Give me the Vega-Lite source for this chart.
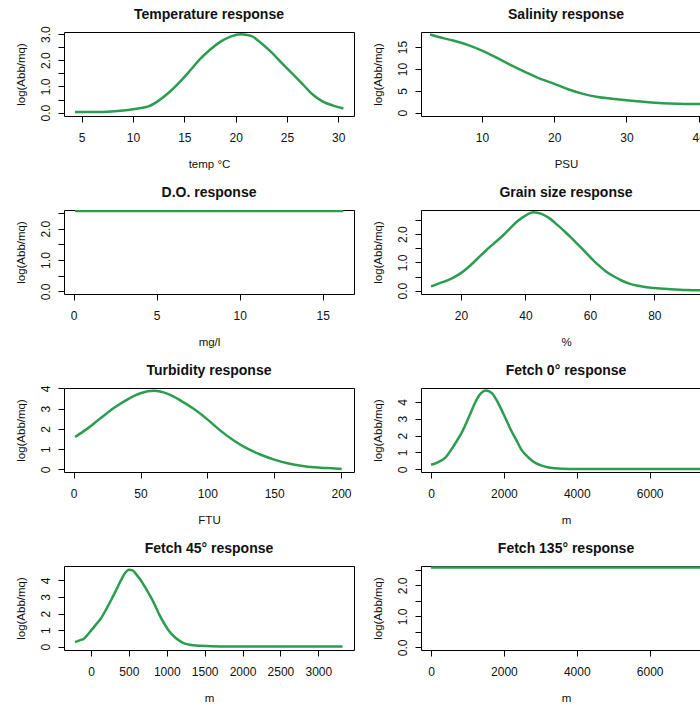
{
 "$schema": "https://vega.github.io/schema/vega-lite/v6.json",
 "padding": {"left": 14, "top": 7, "right": 0, "bottom": 0},
 "background": "white",
 "bounds": "flush",
 "spacing": {"row": 94, "column": 67},
 "columns": 2,
 "datasets": {
  "temp": [
   {"x": 4.35, "y": 0.02}, {"x": 5.5, "y": 0.02}, {"x": 6.5, "y": 0.02}, {"x": 7.5, "y": 0.03}, {"x": 8.5, "y": 0.06},
   {"x": 9.5, "y": 0.1}, {"x": 10.5, "y": 0.16}, {"x": 11.5, "y": 0.24}, {"x": 12.5, "y": 0.46}, {"x": 13.5, "y": 0.77},
   {"x": 14.5, "y": 1.15}, {"x": 15.5, "y": 1.58}, {"x": 16.5, "y": 2.03}, {"x": 17.5, "y": 2.4}, {"x": 18.5, "y": 2.7},
   {"x": 19.5, "y": 2.9}, {"x": 20.5, "y": 2.99}, {"x": 21.5, "y": 2.93}, {"x": 22.5, "y": 2.65}, {"x": 23.5, "y": 2.3},
   {"x": 24.5, "y": 1.89}, {"x": 25.5, "y": 1.5}, {"x": 26.5, "y": 1.1}, {"x": 27.5, "y": 0.69}, {"x": 28.5, "y": 0.42},
   {"x": 29.5, "y": 0.27}, {"x": 30.5, "y": 0.16}
  ],
  "sal": [
   {"x": 2.8, "y": 17.9}, {"x": 4, "y": 17.3}, {"x": 6, "y": 16.5}, {"x": 8, "y": 15.5}, {"x": 10, "y": 14.2},
   {"x": 12, "y": 12.6}, {"x": 14, "y": 10.9}, {"x": 16, "y": 9.3}, {"x": 18, "y": 7.8}, {"x": 20, "y": 6.6},
   {"x": 22, "y": 5.3}, {"x": 24, "y": 4.3}, {"x": 26, "y": 3.6}, {"x": 28, "y": 3.2}, {"x": 30, "y": 2.85},
   {"x": 32, "y": 2.55}, {"x": 34, "y": 2.25}, {"x": 36, "y": 2.07}, {"x": 38, "y": 1.99}, {"x": 40.2, "y": 1.98}
  ],
  "do": [
   {"x": 0.08, "y": 2.567}, {"x": 4, "y": 2.567}, {"x": 8, "y": 2.567}, {"x": 12, "y": 2.567}, {"x": 16.25, "y": 2.567}
  ],
  "grain": [
   {"x": 10.7, "y": 0.15}, {"x": 13, "y": 0.25}, {"x": 15, "y": 0.33}, {"x": 17, "y": 0.43}, {"x": 20, "y": 0.62},
   {"x": 22, "y": 0.8}, {"x": 25, "y": 1.12}, {"x": 28, "y": 1.45}, {"x": 30, "y": 1.65}, {"x": 32.5, "y": 1.9},
   {"x": 35, "y": 2.18}, {"x": 37.5, "y": 2.46}, {"x": 40, "y": 2.66}, {"x": 42.5, "y": 2.78}, {"x": 45, "y": 2.72},
   {"x": 47.5, "y": 2.56}, {"x": 50, "y": 2.32}, {"x": 52.5, "y": 2.06}, {"x": 55, "y": 1.78}, {"x": 57.5, "y": 1.5},
   {"x": 60, "y": 1.2}, {"x": 62.5, "y": 0.92}, {"x": 65, "y": 0.68}, {"x": 67.5, "y": 0.5}, {"x": 70, "y": 0.35},
   {"x": 72.5, "y": 0.24}, {"x": 75, "y": 0.17}, {"x": 77.5, "y": 0.12}, {"x": 80, "y": 0.09}, {"x": 85, "y": 0.05},
   {"x": 90, "y": 0.02}, {"x": 95, "y": 0.01}
  ],
  "turb": [
   {"x": 1, "y": 1.6}, {"x": 10, "y": 2.0}, {"x": 20, "y": 2.52}, {"x": 30, "y": 3.03}, {"x": 40, "y": 3.45},
   {"x": 50, "y": 3.76}, {"x": 60, "y": 3.88}, {"x": 70, "y": 3.74}, {"x": 80, "y": 3.4}, {"x": 90, "y": 2.98},
   {"x": 100, "y": 2.47}, {"x": 110, "y": 1.9}, {"x": 120, "y": 1.41}, {"x": 130, "y": 1.02}, {"x": 140, "y": 0.72},
   {"x": 150, "y": 0.48}, {"x": 160, "y": 0.3}, {"x": 170, "y": 0.18}, {"x": 180, "y": 0.1}, {"x": 190, "y": 0.06},
   {"x": 200.5, "y": 0.02}
  ],
  "f0": [
   {"x": 0, "y": 0.28}, {"x": 100, "y": 0.33}, {"x": 250, "y": 0.48}, {"x": 400, "y": 0.7}, {"x": 550, "y": 1.15},
   {"x": 700, "y": 1.65}, {"x": 850, "y": 2.2}, {"x": 1000, "y": 2.9}, {"x": 1100, "y": 3.4}, {"x": 1200, "y": 3.9},
   {"x": 1330, "y": 4.4}, {"x": 1420, "y": 4.6}, {"x": 1510, "y": 4.67}, {"x": 1600, "y": 4.62}, {"x": 1700, "y": 4.45},
   {"x": 1800, "y": 4.1}, {"x": 1920, "y": 3.6}, {"x": 2050, "y": 3.0}, {"x": 2200, "y": 2.3}, {"x": 2350, "y": 1.7},
   {"x": 2470, "y": 1.2}, {"x": 2600, "y": 0.85}, {"x": 2750, "y": 0.55}, {"x": 2900, "y": 0.33}, {"x": 3020, "y": 0.23},
   {"x": 3200, "y": 0.12}, {"x": 3400, "y": 0.06}, {"x": 3600, "y": 0.03}, {"x": 4000, "y": 0.02}, {"x": 5000, "y": 0.02},
   {"x": 6000, "y": 0.02}, {"x": 7400, "y": 0.02}
  ],
  "f45": [
   {"x": -210, "y": 0.27}, {"x": -150, "y": 0.38}, {"x": -90, "y": 0.5}, {"x": -30, "y": 0.8}, {"x": 0, "y": 0.97},
   {"x": 60, "y": 1.3}, {"x": 130, "y": 1.7}, {"x": 200, "y": 2.25}, {"x": 270, "y": 2.85}, {"x": 330, "y": 3.4},
   {"x": 400, "y": 4.05}, {"x": 450, "y": 4.45}, {"x": 500, "y": 4.65}, {"x": 550, "y": 4.6}, {"x": 600, "y": 4.35},
   {"x": 650, "y": 4.05}, {"x": 700, "y": 3.7}, {"x": 770, "y": 3.15}, {"x": 840, "y": 2.55}, {"x": 900, "y": 1.95},
   {"x": 970, "y": 1.37}, {"x": 1030, "y": 0.95}, {"x": 1100, "y": 0.6}, {"x": 1170, "y": 0.35}, {"x": 1230, "y": 0.2},
   {"x": 1300, "y": 0.12}, {"x": 1450, "y": 0.05}, {"x": 1600, "y": 0.02}, {"x": 2000, "y": 0.01}, {"x": 2500, "y": 0.01},
   {"x": 3000, "y": 0.01}, {"x": 3320, "y": 0.01}
  ],
  "f135": [
   {"x": 0, "y": 2.576}, {"x": 2000, "y": 2.576}, {"x": 4000, "y": 2.576}, {"x": 6000, "y": 2.576}, {"x": 7400, "y": 2.576}
  ]
 },
 "config": {
  "font": "Liberation Sans",
  "view": {"stroke": "#000", "strokeWidth": 1},
  "title": {"fontSize": 14, "fontWeight": "bold", "color": "#111", "offset": 10, "baseline": "alphabetic", "anchor": "middle", "frame": "group", "font": "Liberation Sans"},
  "axis": {"domain": false, "grid": false, "tickColor": "#000", "tickSize": 6, "labelFontSize": 12, "labelColor": "#111", "titleFontSize": 11.5, "titleFontWeight": "normal", "titleColor": "#111", "labelFont": "Liberation Sans", "titleFont": "Liberation Sans", "labelOverlap": false},
  "axisX": {"labelPadding": 10.5, "labelBaseline": "top", "labelFlush": false, "titleY": 48, "titleBaseline": "middle"},
  "axisY": {"labelAngle": -90, "labelAlign": "center", "labelBaseline": "middle", "labelPadding": 12.5, "titleX": -43, "titleY": 42, "titleAngle": -90, "titleBaseline": "middle", "titleAlign": "center"}
 },
 "concat": [
  {
   "title": {"text": "Temperature response", "offset": 3.7}, "width": 290, "height": 84, "data": {"name": "temp"},
   "mark": {"type": "line", "color": "#2a9d4e", "strokeWidth": 2.5, "interpolate": "monotone", "clip": true},
   "encoding": {
    "x": {"field": "x", "type": "quantitative", "scale": {"domain": [3.276, 31.53], "nice": false, "zero": false}, "axis": {"title": "temp °C", "values": [5, 10, 15, 20, 25, 30]}},
    "y": {"field": "y", "type": "quantitative", "scale": {"domain": [-0.128, 3.078], "nice": false, "zero": false}, "axis": {"title": "log(Abb/mq)", "values": [0, 0.5, 1, 1.5, 2, 2.5, 3], "labelExpr": "datum.value % 1 == 0 ? format(datum.value, '.1f') : ''"}}
   }
  },
  {
   "title": "Salinity response", "width": 290, "height": 84, "data": {"name": "sal"},
   "mark": {"type": "line", "color": "#2a9d4e", "strokeWidth": 2.5, "interpolate": "monotone", "clip": true},
   "encoding": {
    "x": {"field": "x", "type": "quantitative", "scale": {"domain": [1.553, 41.7], "nice": false, "zero": false}, "axis": {"title": "PSU", "values": [10, 20, 30, 40]}},
    "y": {"field": "y", "type": "quantitative", "scale": {"domain": [-0.766, 18.46], "nice": false, "zero": false}, "axis": {"title": "log(Abb/mq)", "values": [0, 5, 10, 15]}}
   }
  },
  {
   "title": "D.O. response", "width": 290, "height": 84, "data": {"name": "do"},
   "mark": {"type": "line", "color": "#2a9d4e", "strokeWidth": 2.5, "clip": true},
   "encoding": {
    "x": {"field": "x", "type": "quantitative", "scale": {"domain": [-0.584, 16.89], "nice": false, "zero": false}, "axis": {"title": "mg/l", "values": [0, 5, 10, 15]}},
    "y": {"field": "y", "type": "quantitative", "scale": {"domain": [-0.086, 2.6], "nice": false, "zero": false}, "axis": {"title": "log(Abb/mq)", "values": [0, 0.5, 1, 1.5, 2, 2.5], "labelExpr": "datum.value % 1 == 0 ? format(datum.value, '.1f') : ''"}}
   }
  },
  {
   "title": "Grain size response", "width": 290, "height": 84, "data": {"name": "grain"},
   "mark": {"type": "line", "color": "#2a9d4e", "strokeWidth": 2.5, "interpolate": "monotone", "clip": true},
   "encoding": {
    "x": {"field": "x", "type": "quantitative", "scale": {"domain": [7.585, 97.59], "nice": false, "zero": false}, "axis": {"title": "%", "values": [20, 40, 60, 80]}},
    "y": {"field": "y", "type": "quantitative", "scale": {"domain": [-0.119, 2.857], "nice": false, "zero": false}, "axis": {"title": "log(Abb/mq)", "values": [0, 0.5, 1, 1.5, 2, 2.5], "labelExpr": "datum.value % 1 == 0 ? format(datum.value, '.1f') : ''"}}
   }
  },
  {
   "title": {"text": "Turbidity response", "offset": 7.1}, "width": 290, "height": 84, "data": {"name": "turb"},
   "mark": {"type": "line", "color": "#2a9d4e", "strokeWidth": 2.5, "interpolate": "monotone", "clip": true},
   "encoding": {
    "x": {"field": "x", "type": "quantitative", "scale": {"domain": [-7.26, 209.7], "nice": false, "zero": false}, "axis": {"title": "FTU", "values": [0, 50, 100, 150, 200]}},
    "y": {"field": "y", "type": "quantitative", "scale": {"domain": [-0.132, 4.02], "nice": false, "zero": false}, "axis": {"title": "log(Abb/mq)", "values": [0, 1, 2, 3, 4]}}
   }
  },
  {
   "title": "Fetch 0° response", "width": 290, "height": 84, "data": {"name": "f0"},
   "mark": {"type": "line", "color": "#2a9d4e", "strokeWidth": 2.5, "interpolate": "monotone", "clip": true},
   "encoding": {
    "x": {"field": "x", "type": "quantitative", "scale": {"domain": [-274, 7683], "nice": false, "zero": false}, "axis": {"title": "m", "values": [0, 2000, 4000, 6000], "format": "d"}},
    "y": {"field": "y", "type": "quantitative", "scale": {"domain": [-0.16, 4.82], "nice": false, "zero": false}, "axis": {"title": "log(Abb/mq)", "values": [0, 1, 2, 3, 4]}}
   }
  },
  {
   "title": "Fetch 45° response", "width": 290, "height": 84, "data": {"name": "f45"},
   "mark": {"type": "line", "color": "#2a9d4e", "strokeWidth": 2.5, "interpolate": "monotone", "clip": true},
   "encoding": {
    "x": {"field": "x", "type": "quantitative", "scale": {"domain": [-356, 3471], "nice": false, "zero": false}, "axis": {"title": "m", "values": [0, 500, 1000, 1500, 2000, 2500, 3000], "format": "d"}},
    "y": {"field": "y", "type": "quantitative", "scale": {"domain": [-0.2, 4.87], "nice": false, "zero": false}, "axis": {"title": "log(Abb/mq)", "values": [0, 1, 2, 3, 4]}}
   }
  },
  {
   "title": "Fetch 135° response", "width": 290, "height": 84, "data": {"name": "f135"},
   "mark": {"type": "line", "color": "#2a9d4e", "strokeWidth": 2.5, "clip": true},
   "encoding": {
    "x": {"field": "x", "type": "quantitative", "scale": {"domain": [-274, 7683], "nice": false, "zero": false}, "axis": {"title": "m", "values": [0, 2000, 4000, 6000], "format": "d"}},
    "y": {"field": "y", "type": "quantitative", "scale": {"domain": [-0.086, 2.627], "nice": false, "zero": false}, "axis": {"title": "log(Abb/mq)", "values": [0, 0.5, 1, 1.5, 2, 2.5], "labelExpr": "datum.value % 1 == 0 ? format(datum.value, '.1f') : ''"}}
   }
  }
 ]
}
